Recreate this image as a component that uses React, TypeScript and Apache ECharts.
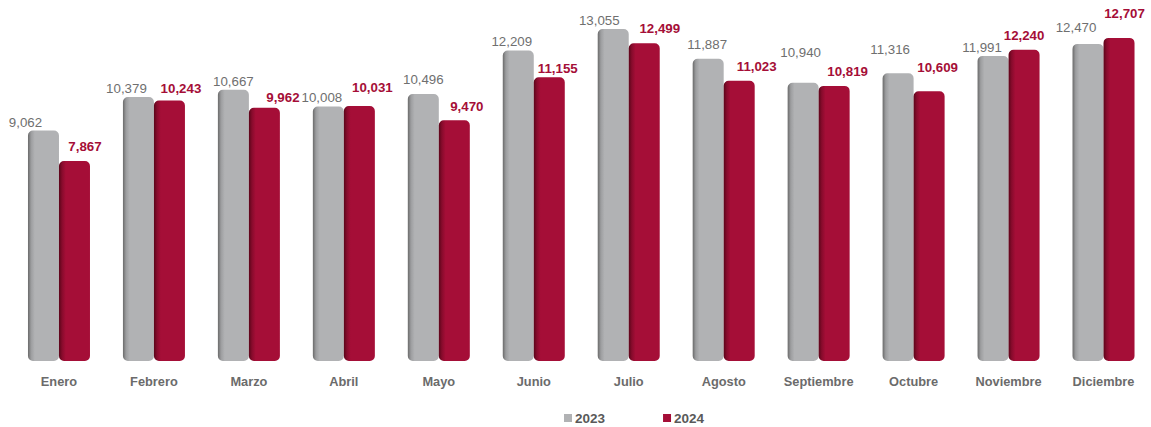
import React, { useEffect, useRef } from "react";
import * as echarts from "echarts";

const months = ["Enero", "Febrero", "Marzo", "Abril", "Mayo", "Junio", "Julio", "Agosto", "Septiembre", "Octubre", "Noviembre", "Diciembre"];
const values2023 = [9062, 10379, 10667, 10008, 10496, 12209, 13055, 11887, 10940, 11316, 11991, 12470];
const values2024 = [7867, 10243, 9962, 10031, 9470, 11155, 12499, 11023, 10819, 10609, 12240, 12707];

// label placement (px) relative to the top centre of each bar
const labelShiftX2023 = [-18, -12, 0, -6.5, 0, -6.5, -14, -1, -2.5, -8, -11, -12];
const labelRise2023 = [9, 9, 9, 10, 15, 10, 9, 15, 31, 24, 9, 17];
const labelShiftX2024 = [10.5, 11.5, 18.5, 13, 12.5, 8.5, 15.5, 17.5, 13.5, 8.5, 0, 5.5];
const labelRise2024 = [15, 13, 11, 19, 14, 9, 15, 15, 15, 24, 15, 25];

const GRAY = "#b1b2b4";
const RED = "#a50e37";
const FONT = "'Liberation Sans', Arial, sans-serif";

const fmt = (v: number) => v.toLocaleString("en-US");

export default function App() {
  const ref = useRef<HTMLDivElement>(null);
  useEffect(() => {
    if (!ref.current) return;
    const chart = echarts.init(ref.current, null, { renderer: "svg" });
    const grayGrad = new echarts.graphic.LinearGradient(0, 0, 1, 0, [
      { offset: 0, color: "#6a6a6a" },
      { offset: 0.1, color: "#9c9d9f" },
      { offset: 0.22, color: GRAY },
      { offset: 1, color: GRAY },
    ]);
    const redGrad = new echarts.graphic.LinearGradient(0, 0, 1, 0, [
      { offset: 0, color: "#5a0519" },
      { offset: 0.1, color: "#870b2c" },
      { offset: 0.22, color: RED },
      { offset: 1, color: RED },
    ]);
    const mk = (vals: number[], dx: number[], rise: number[]) =>
      vals.map((v, i) => ({ value: v, label: { offset: [dx[i], -(rise[i] - 7)] } }));
    chart.setOption({
      animation: false,
      textStyle: { fontFamily: FONT },
      grid: { left: 11.5, top: 5, width: 1141, height: 356 },
      legend: {
        left: 564,
        top: 411,
        padding: 0,
        itemGap: 58,
        itemWidth: 8,
        itemHeight: 8,
        icon: "rect",
        textStyle: { fontFamily: FONT, fontWeight: "bold", fontSize: 13.5, color: "#595959", padding: [0, 0, 0, -2] },
        data: [
          { name: "2023", itemStyle: { color: GRAY } },
          { name: "2024", itemStyle: { color: RED } },
        ],
      },
      xAxis: {
        type: "category",
        data: months,
        axisLine: { show: false },
        axisTick: { show: false },
        axisLabel: {
          margin: 14,
          fontFamily: FONT,
          fontWeight: "bold",
          fontSize: 12.8,
          color: "#6b6b6b",
        },
      },
      yAxis: {
        type: "value",
        min: 0,
        max: 14000,
        show: false,
        splitLine: { show: false },
      },
      series: [
        {
          name: "2023",
          type: "bar",
          barWidth: 31,
          barGap: "0%",
          data: mk(values2023, labelShiftX2023, labelRise2023),
          itemStyle: { color: grayGrad, borderRadius: 5 },
          label: {
            show: true,
            position: "top",
            distance: 0,
            fontFamily: FONT,
            fontSize: 13.3,
            color: "#6f6f6f",
            formatter: (p: any) => fmt(p.value),
          },
        },
        {
          name: "2024",
          type: "bar",
          barWidth: 31,
          data: mk(values2024, labelShiftX2024, labelRise2024),
          itemStyle: { color: redGrad, borderRadius: 5 },
          label: {
            show: true,
            position: "top",
            distance: 0,
            fontFamily: FONT,
            fontWeight: "bold",
            fontSize: 13.3,
            color: RED,
            formatter: (p: any) => fmt(p.value),
          },
        },
      ],
    });
    return () => chart.dispose();
  }, []);
  return <div ref={ref} style={{ position: "absolute", left: 0, top: 0, width: 1151, height: 427 }} />;
}
